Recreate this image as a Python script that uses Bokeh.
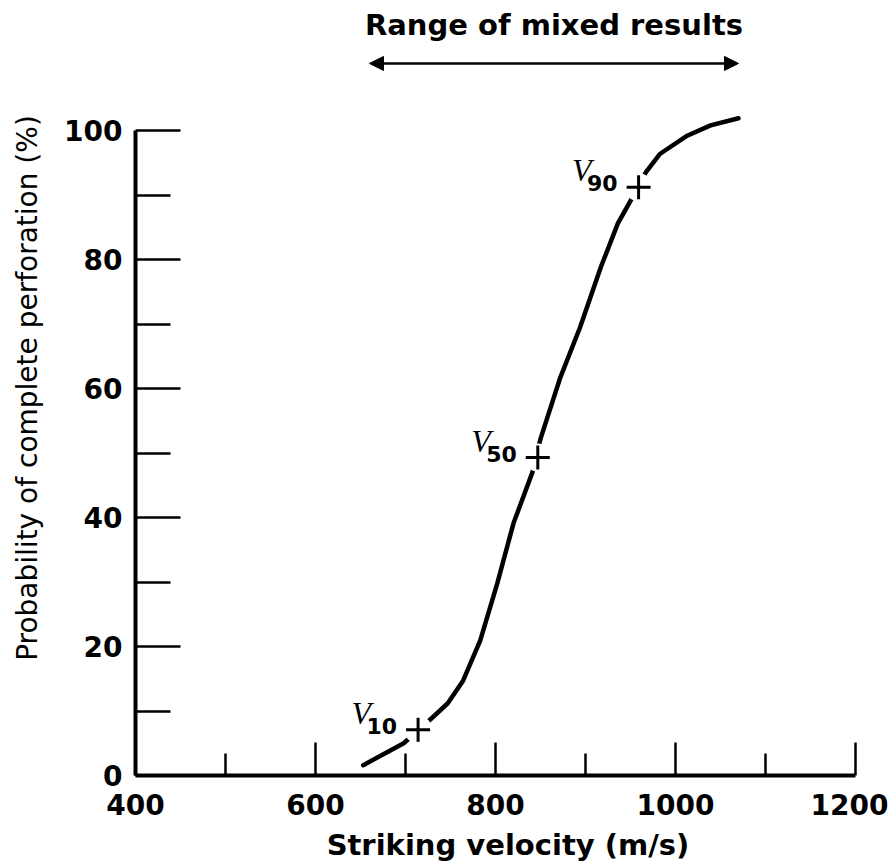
from bokeh.plotting import figure
from bokeh.models import Range1d, Arrow, NormalHead, FixedTicker
from bokeh.embed import file_html
from bokeh.resources import INLINE
from bokeh.core.properties import value

# ---- data ----
velocity = [653, 698, 730, 747, 764, 783, 802, 820, 841, 850, 872, 894, 917, 936, 950, 967, 983, 1013, 1039, 1070]
probability = [1.6, 5.0, 9.0, 11.2, 14.7, 20.9, 29.8, 39.1, 47.0, 52.2, 61.7, 69.5, 78.8, 85.6, 89.1, 93.5, 96.4, 99.2, 100.8, 101.9]

marker_names = ["10", "50", "90"]
marker_velocity = [714, 847, 959]
marker_probability = [7.1, 49.3, 91.2]

mixed_range = [660, 1070]
mixed_label = "Range of mixed results"

x_ticks = [400, 600, 800, 1000, 1200]
x_minor = [500, 700, 900, 1100]
y_ticks = [0, 20, 40, 60, 80, 100]
y_minor = [10, 30, 50, 70, 90]

FONT = "DejaVu Sans"

p = figure(width=888, height=864, output_backend="svg", toolbar_location=None,
           x_range=Range1d(400, 1227.8), y_range=Range1d(0, 120.16),
           min_border_left=135, min_border_right=8, min_border_top=0, min_border_bottom=89)
p.grid.visible = False
p.outline_line_color = None
p.background_fill_color = "white"

# axes
for ax, ticks, minor, bnds in ((p.xaxis[0], x_ticks, x_minor, (400, 1200)),
                               (p.yaxis[0], y_ticks, y_minor, (0, 100))):
    ax.ticker = FixedTicker(ticks=ticks, minor_ticks=minor)
    ax.bounds = bnds
    ax.axis_line_width = 4
    ax.axis_line_color = "black"
    ax.major_tick_out = 0
    ax.minor_tick_out = 0
    ax.major_tick_line_width = 2.5
    ax.minor_tick_line_width = 2.5
    ax.major_tick_line_color = "black"
    ax.minor_tick_line_color = "black"
    ax.major_label_text_font = FONT
    ax.major_label_text_font_style = "bold"
    ax.major_label_text_font_size = "28px"
    ax.major_label_text_color = "black"
    ax.axis_label_text_font = FONT
    ax.axis_label_text_color = "black"

p.xaxis.major_tick_in = 33
p.xaxis.minor_tick_in = 22
p.xaxis.major_label_standoff = 18
p.xaxis.axis_label = "Striking velocity (m/s)"
p.xaxis.axis_label_text_font_size = "29px"
p.xaxis.axis_label_text_font_style = "bold"
p.xaxis.axis_label_standoff = 10

p.yaxis.major_tick_in = 45
p.yaxis.minor_tick_in = 35
p.yaxis.major_label_standoff = 13
p.yaxis.axis_label = "Probability of complete perforation (%)"
p.yaxis.axis_label_text_font_size = "28px"
p.yaxis.axis_label_text_font_style = "normal"
p.yaxis.axis_label_standoff = 17

# curve
p.line(velocity, probability, line_width=4.5, line_color="black",
       line_cap="round", line_join="round")

# gaps around markers + crosses
p.scatter(marker_velocity, marker_probability, marker="circle", size=28,
          fill_color="white", line_color=None)
p.scatter(marker_velocity, marker_probability, marker="cross", size=24,
          line_width=3, line_color="black")

# V labels
p.text(marker_velocity, marker_probability, text=["V"] * len(marker_names),
       x_offset=-47, y_offset=-17, text_align="right", text_baseline="middle",
       text_font=value("Liberation Serif"), text_font_style="italic",
       text_font_size="32px", text_color="black")
p.text(marker_velocity, marker_probability, text=marker_names,
       x_offset=-21, y_offset=-4, text_align="right", text_baseline="middle",
       text_font=value(FONT), text_font_style="bold",
       text_font_size="22px", text_color="black")

# range of mixed results
p.add_layout(Arrow(x_start=mixed_range[0], x_end=mixed_range[1], y_start=110.4, y_end=110.4,
                   line_width=2.5, line_color="black",
                   start=NormalHead(size=14, fill_color="black", line_color="black"),
                   end=NormalHead(size=14, fill_color="black", line_color="black")))
p.text([sum(mixed_range) / 2], [116.3], text=[mixed_label], text_align="center",
       text_baseline="middle", text_font=value(FONT), text_font_style="bold",
       text_font_size="29px", text_color="black")

open("out.html", "w").write(file_html(p, INLINE))
